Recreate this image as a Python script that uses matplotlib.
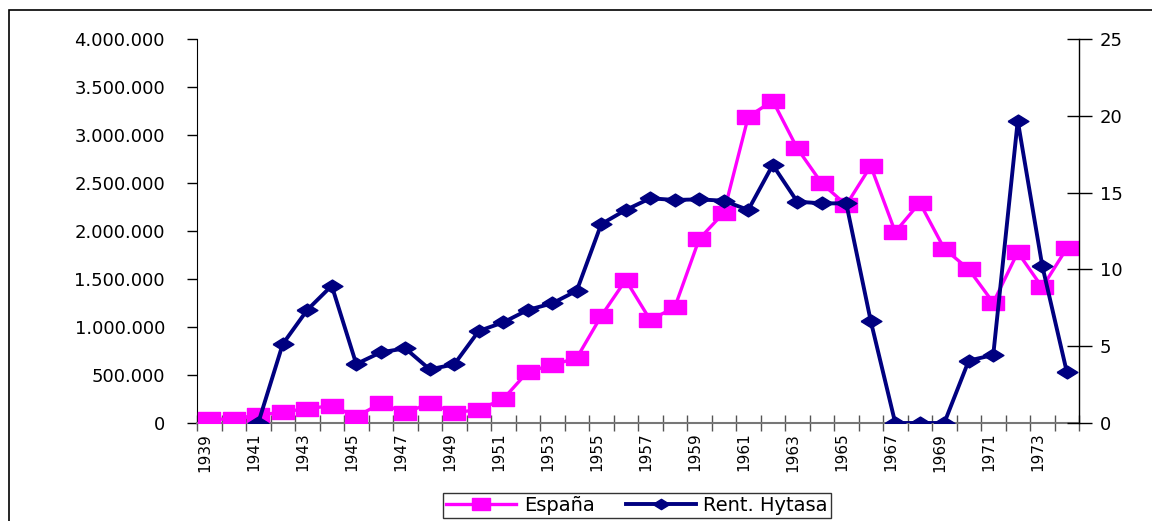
import numpy as np
import matplotlib
matplotlib.use("Agg")
import matplotlib.pyplot as plt
from matplotlib.patches import Rectangle
from matplotlib.ticker import FuncFormatter

# data
years = list(range(1939, 1975))
espana = [40000, 40000, 80000, 115000, 150000, 180000, 65000, 205000, 107000, 205000,
          107000, 140000, 250000, 534000, 604000, 677000, 1115000, 1490000, 1073000, 1205000,
          1917000, 2190000, 3190000, 3357000, 2861000, 2497000, 2271000, 2677000, 1990000, 2295000,
          1816000, 1601000, 1253000, 1778000, 1413000, 1820000]
hytasa = [np.nan, np.nan, 0, 5.14, 7.36, 8.94, 3.84, 4.60, 4.86, 3.49,
          3.82, 5.99, 6.55, 7.36, 7.79, 8.61, 12.95, 13.87, 14.63, 14.52,
          14.56, 14.47, 13.87, 16.80, 14.41, 14.30, 14.30, 6.64, 0, 0,
          0, 4.06, 4.43, 19.68, 10.24, 3.34]
labels_x = [str(y) for y in years[::2]]

pink = "#FF00FF"
navy = "#000080"
plt.rcParams["font.family"] = ["DejaVu Sans"]

rect_marker = [(-1.6, -1), (1.6, -1), (1.6, 1), (-1.6, 1), (-1.6, -1)]
diam_marker = [(-1, 0), (0, 0.62), (1, 0), (0, -0.62), (-1, 0)]

fig = plt.figure(figsize=(11.52, 5.21), dpi=100)
ax = fig.add_axes([197 / 1152, 1 - 423 / 521, (1079 - 197) / 1152, (423 - 39) / 521])
ax2 = ax.twinx()

x = np.arange(len(years))
ax.plot(x, espana, color=pink, lw=2.4, marker=rect_marker, ms=16, mec=pink, mfc=pink,
        label="España", zorder=3)
ax2.plot(x, hytasa, color=navy, lw=2.8, marker=diam_marker, ms=15, mec=navy, mfc=navy,
         label="Rent. Hytasa", zorder=3)

ax.set_xlim(-0.5, len(years) - 0.5)
ax.set_ylim(0, 4000000)
ax2.set_ylim(0, 25)
ax.set_yticks(np.arange(0, 4000001, 500000))
ax2.set_yticks(np.arange(0, 26, 5))
ax.yaxis.set_major_formatter(FuncFormatter(lambda v, p: f"{int(v):,}".replace(",", ".")))

ax.set_xticks(x[::2] - 0.2)
ax.set_xticklabels(labels_x, rotation=90, fontsize=11)
ax.set_xticks(np.arange(-0.5, len(years)), minor=True)
ax.tick_params(axis="x", which="major", length=0, pad=7)
ax.tick_params(axis="x", which="minor", direction="inout", length=11, width=1, color="#555555")
ax.tick_params(axis="y", which="major", direction="out", length=7, width=1, pad=16, labelsize=13)
ax2.tick_params(axis="y", direction="inout", length=18, width=1, pad=6, labelsize=13)

for a in (ax, ax2):
    a.spines["top"].set_visible(False)
ax.spines["right"].set_visible(False)
ax.spines["bottom"].set_color("#777777")
ax.spines["bottom"].set_linewidth(1.5)
ax2.spines["bottom"].set_visible(False)
ax2.spines["left"].set_visible(False)
ax2.spines["right"].set_linewidth(1)

# outer chart border (right and bottom sides lie outside the image)
fig.patches.append(Rectangle((9 / 1152, -0.1), 1.2, 1 - 10 / 521 + 0.1, transform=fig.transFigure,
                             fill=False, edgecolor="black", lw=1.2))

h1, l1 = ax.get_legend_handles_labels()
h2, l2 = ax2.get_legend_handles_labels()
leg = fig.legend(h1 + h2, l1 + l2, loc="upper center", bbox_to_anchor=(637 / 1152, 1 - 493 / 521),
                 ncol=2, fontsize=14, frameon=True, fancybox=False, edgecolor="black",
                 handlelength=3.6, columnspacing=1.6, handletextpad=0.4, borderpad=0.15,
                 borderaxespad=0, markerscale=0.8)
leg.get_frame().set_linewidth(1)

fig.savefig("out.png", dpi=100)
